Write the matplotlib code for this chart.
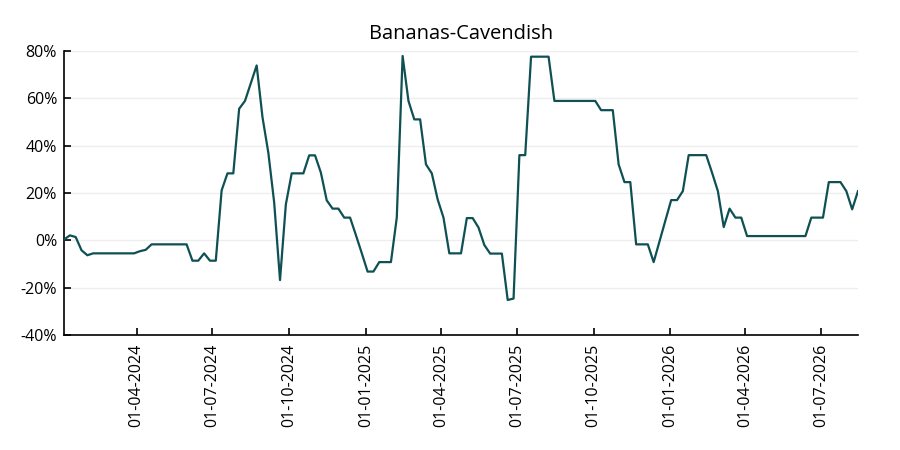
import matplotlib
matplotlib.use("Agg")
import matplotlib.pyplot as plt
import matplotlib.dates as mdates
from matplotlib.ticker import FuncFormatter, MultipleLocator
import pandas as pd

plt.rcParams['font.family'] = ['Open Sans', 'DejaVu Sans']

title = "Bananas-Cavendish"
start_date = "2024-01-05"
values = [
    0.3, 2.1, 1.4, -4.2, -6.3, -5.5, -5.5, -5.5, -5.5, -5.5,
    -5.5, -5.5, -5.5, -4.6, -4.0, -1.7, -1.7, -1.7, -1.7, -1.7,
    -1.7, -1.7, -8.6, -8.6, -5.5, -8.6, -8.6, 21.1, 28.3, 28.3,
    55.6, 58.9, 66.4, 73.9, 52.0, 37.0, 16.0, -16.8, 15.2, 28.3,
    28.3, 28.3, 35.9, 35.9, 28.6, 16.9, 13.4, 13.4, 9.6, 9.6,
    2.2, -5.4, -13.2, -13.2, -9.2, -9.2, -9.2, 9.6, 77.9, 58.9,
    51.1, 51.1, 32.1, 28.3, 17.3, 9.6, -5.5, -5.5, -5.5, 9.4,
    9.4, 5.4, -2.0, -5.6, -5.6, -5.6, -25.2, -24.6, 36.0, 36.0,
    77.6, 77.6, 77.6, 77.6, 58.9, 58.9, 58.9, 58.9, 58.9, 58.9,
    58.9, 58.9, 55.0, 55.0, 55.0, 32.1, 24.6, 24.6, -1.7, -1.7,
    -1.7, -9.2, -0.4, 8.3, 17.0, 17.0, 20.8, 36.0, 36.0, 36.0,
    36.0, 28.6, 20.8, 5.6, 13.4, 9.6, 9.6, 1.8, 1.8, 1.8,
    1.8, 1.8, 1.8, 1.8, 1.8, 1.8, 1.8, 1.8, 9.6, 9.6,
    9.6, 24.6, 24.6, 24.6, 20.8, 13.1, 20.8,
]
dates = pd.date_range(start=start_date, periods=len(values), freq="7D")

fig = plt.figure(figsize=(9, 4.5), dpi=100)
ax = fig.add_axes([64/900, 1-335/450, (858-64)/900, (335-51)/450])

ax.plot(dates, values, color="#0e5053", linewidth=1.6, zorder=3)

ax.set_ylim(-40, 80)
ax.set_xlim(dates[0], dates[-1])
ax.yaxis.set_major_locator(MultipleLocator(20))
ax.yaxis.set_major_formatter(FuncFormatter(lambda v, p: f"{v:.0f}%"))
ax.xaxis.set_major_locator(mdates.MonthLocator(bymonth=[1, 4, 7, 10], bymonthday=1))
ax.xaxis.set_major_formatter(mdates.DateFormatter("%d-%m-%Y"))
for lbl in ax.get_xticklabels():
    lbl.set_rotation(90)

ax.grid(axis="y", color="#eeeeee", linewidth=1.0, zorder=0)
ax.set_axisbelow(True)
for s in ["top", "right"]:
    ax.spines[s].set_visible(False)
for s in ["left", "bottom"]:
    ax.spines[s].set_color("black")
    ax.spines[s].set_linewidth(1.2)
ax.tick_params(axis="both", direction="in", length=5, width=1.2, labelsize=11.5, colors="black")
ax.tick_params(axis="x", pad=6)
ax.tick_params(axis="y", pad=5)

ax.set_title(title, fontsize=14.5, pad=9)

fig.savefig("out.png", dpi=100)
